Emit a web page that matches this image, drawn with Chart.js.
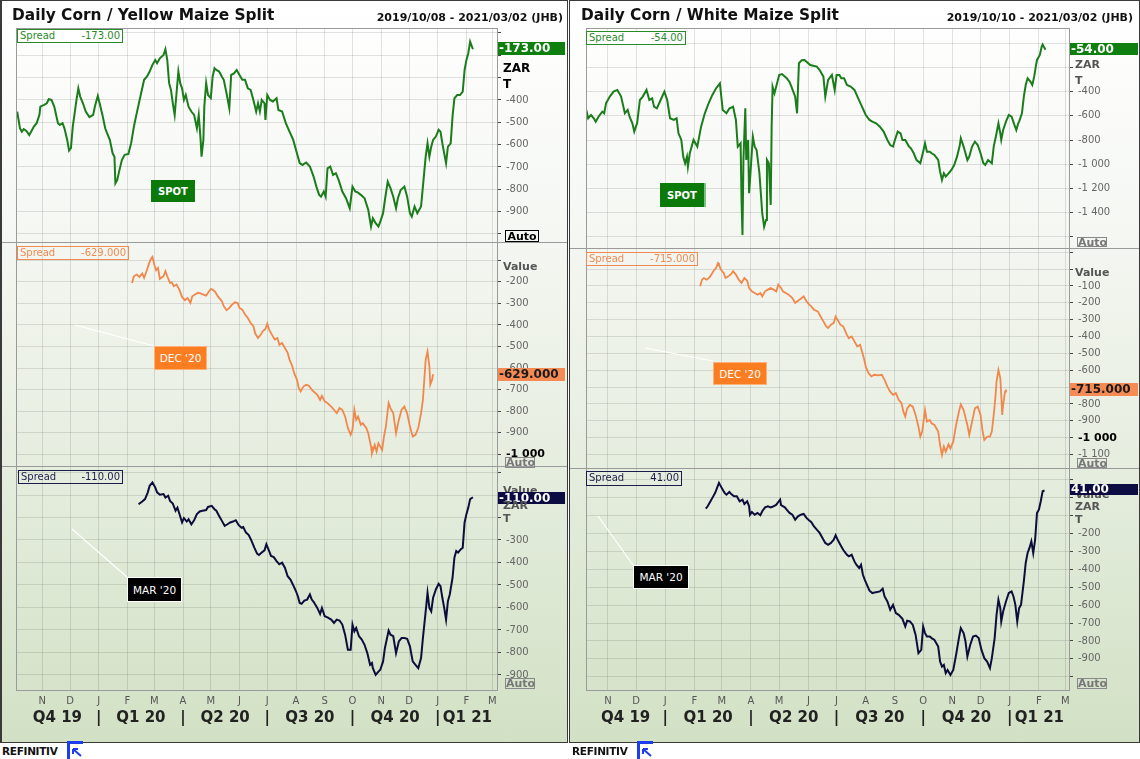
<!DOCTYPE html>
<html>
<head>
<meta charset="utf-8">
<script src="https://cdn.jsdelivr.net/npm/chart.js@4.4.1/dist/chart.umd.min.js"></script>
<style>
  body { margin:0; width:1140px; height:759px; overflow:hidden; background:#fff; font-family:'DejaVu Sans', Verdana, sans-serif; }
  .panel { position:absolute; top:0; height:742px; background:linear-gradient(to bottom,#ffffff 0%,#f6f8f4 28%,#e8efe2 58%,#d2e1c5 100%); }
  .panel canvas { position:absolute; left:0; }
  .frame { position:absolute; border:1px solid #3a3a3a; box-sizing:border-box; pointer-events:none; }
  .hl { position:absolute; height:1px; background:#9a9a9a; }
  .vl { position:absolute; width:1px; background:#9a9a9a; }
  .title { position:absolute; top:6px; font-weight:bold; font-size:15.4px; color:#111; white-space:nowrap; }
  .range { position:absolute; top:11px; font-weight:bold; font-size:11px; color:#111; white-space:nowrap; }
  .spread { position:absolute; border:1px solid; box-sizing:border-box; font-size:10px; line-height:12px; padding:0 2px; display:flex; justify-content:space-between; white-space:nowrap; }
  .tag { position:absolute; font-weight:bold; font-size:12px; padding-left:1px; box-sizing:border-box; white-space:nowrap; overflow:hidden; }
  .unit { position:absolute; font-weight:bold; font-size:11px; line-height:11px; }
  .auto { position:absolute; border:1px solid #888; box-sizing:border-box; font-weight:bold; font-size:11px; line-height:10px; color:#777; text-align:center; }
  .box { position:absolute; color:#fff; font-size:10.5px; display:flex; align-items:center; justify-content:center; box-sizing:border-box; white-space:nowrap; }
  .logo { position:absolute; top:745px; font-weight:bold; font-size:10.5px; letter-spacing:-0.3px; color:#111; }
  .mark { position:absolute; top:741px; width:16px; height:18px; border-left:3px solid #1d3cf0; border-top:3px solid #1d3cf0; box-sizing:border-box; }
  svg { position:absolute; pointer-events:none; }
</style>
</head>
<body>

<div class="panel" style="left:0;width:568px">
  <canvas id="l1" width="568" height="214" style="top:28px"></canvas>
  <canvas id="l2" width="568" height="224" style="top:242px"></canvas>
  <canvas id="l3" width="568" height="276" style="top:466px"></canvas>
  <div class="vl" style="left:16px;top:28px;height:662px"></div>
  <div class="hl" style="left:16px;top:28px;width:481px"></div>
  <div class="hl" style="left:0;top:242px;width:568px"></div>
  <div class="hl" style="left:0;top:466px;width:568px"></div>
  <svg width="568" height="742" style="left:0;top:0">
    <line x1="75" y1="325" x2="154" y2="346" stroke="#fff" stroke-width="1.2"/>
    <line x1="72" y1="529" x2="127" y2="577" stroke="#fff" stroke-width="1.2"/>
  </svg>
  <div class="title" style="left:12px">Daily Corn / Yellow Maize Split</div>
  <div class="range" style="right:5px">2019/10/08 - 2021/03/02 (JHB)</div>

  <div class="spread" style="left:17px;top:29px;width:106px;height:14px;color:#2a8a2a;border-color:#2a8a2a;background:#fff"><span>Spread</span><span>-173.00</span></div>
  <div class="spread" style="left:17px;top:246px;width:112px;height:14px;color:#f08a52;border-color:#f08a52"><span>Spread</span><span>-629.000</span></div>
  <div class="spread" style="left:18px;top:470px;width:105px;height:14px;color:#1c1c4c;border-color:#1c1c4c"><span>Spread</span><span>-110.00</span></div>

  <div class="box" style="left:151px;top:180px;width:44px;height:22px;background:#0b7a0b;font-weight:bold;font-size:10px">SPOT</div>
  <div class="box" style="left:154px;top:346px;width:53px;height:24px;background:#fb7d22;border:1px solid #fcb27a">DEC '20</div>
  <div class="box" style="left:127px;top:577px;width:55px;height:25px;background:#000;border:1px solid #fff">MAR '20</div>

  <div class="unit" style="left:503px;top:46px;color:#000">Value</div>
  <div class="tag" style="left:498px;top:42px;width:67px;height:13px;line-height:13px;background:#0f800f;color:#fff">-173.00</div>
  <div class="unit" style="left:503px;top:63px;color:#000;font-size:12px">ZAR</div>
  <div class="unit" style="left:503px;top:79px;color:#000;font-size:12px">T</div>
  <div class="auto" style="left:505px;top:230px;width:34px;height:12px;color:#000;border-color:#000;line-height:11px">Auto</div>

  <div class="unit" style="left:503px;top:261px;color:#555">Value</div>
  <div class="tag" style="left:498px;top:368px;width:67px;height:13px;line-height:13px;background:#f58a55;color:#1a1a1a">-629.000</div>
  <div class="auto" style="left:505px;top:457px;width:30px;height:11px">Auto</div>

  <div class="unit" style="left:503px;top:485px;color:#555">Value</div>
  <div class="tag" style="left:498px;top:492px;width:67px;height:12px;line-height:12px;background:#0c0c42;color:#fff">-110.00</div>
  <div class="unit" style="left:503px;top:500px;color:#555">ZAR</div>
  <div class="unit" style="left:503px;top:513px;color:#555">T</div>
  <div class="auto" style="left:505px;top:678px;width:30px;height:11px">Auto</div>
</div>

<div class="panel" style="left:570px;width:570px">
  <canvas id="r1" width="570" height="220" style="top:28px"></canvas>
  <canvas id="r2" width="570" height="220" style="top:248px"></canvas>
  <canvas id="r3" width="570" height="274" style="top:468px"></canvas>
  <div class="vl" style="left:16px;top:28px;height:662px"></div>
  <div class="hl" style="left:16px;top:28px;width:483px"></div>
  <div class="hl" style="left:0;top:248px;width:570px"></div>
  <div class="hl" style="left:0;top:468px;width:570px"></div>
  <svg width="570" height="742" style="left:0;top:0">
    <line x1="75" y1="348" x2="143" y2="361" stroke="#fff" stroke-width="1.2"/>
    <line x1="28" y1="516" x2="63" y2="565" stroke="#fff" stroke-width="1.2"/>
  </svg>
  <div class="title" style="left:11px">Daily Corn / White Maize Split</div>
  <div class="range" style="right:7px">2019/10/10 - 2021/03/02 (JHB)</div>

  <div class="spread" style="left:16px;top:31px;width:100px;height:14px;color:#2a8a2a;border-color:#2a8a2a;background:#fff"><span>Spread</span><span>-54.00</span></div>
  <div class="spread" style="left:16px;top:252px;width:112px;height:14px;color:#f08a52;border-color:#f08a52"><span>Spread</span><span>-715.000</span></div>
  <div class="spread" style="left:16px;top:471px;width:96px;height:15px;color:#1c1c4c;border-color:#1c1c4c"><span>Spread</span><span>41.00</span></div>

  <div class="box" style="left:90px;top:183px;width:46px;height:24px;background:#0b7a0b;font-weight:bold;font-size:10px;border-right:2px solid #7fbf7f">SPOT</div>
  <div class="box" style="left:143px;top:362px;width:54px;height:23px;background:#fb7d22;border:1px solid #fcb27a">DEC '20</div>
  <div class="box" style="left:63px;top:565px;width:56px;height:24px;background:#000;border:1px solid #fff">MAR '20</div>

  <div class="unit" style="left:505px;top:46px;color:#555">Value</div>
  <div class="tag" style="left:500px;top:43px;width:68px;height:12px;line-height:12px;background:#0f800f;color:#fff">-54.00</div>
  <div class="unit" style="left:505px;top:59px;color:#555">ZAR</div>
  <div class="unit" style="left:505px;top:75px;color:#555">T</div>
  <div class="auto" style="left:507px;top:237px;width:30px;height:10px;line-height:9px">Auto</div>

  <div class="unit" style="left:505px;top:267px;color:#555">Value</div>
  <div class="tag" style="left:500px;top:383px;width:68px;height:13px;line-height:13px;background:#f58a55;color:#1a1a1a">-715.000</div>
  <div class="auto" style="left:507px;top:458px;width:30px;height:10px;line-height:9px">Auto</div>

  <div class="unit" style="left:505px;top:489px;color:#555">Value</div>
  <div class="tag" style="left:500px;top:484px;width:68px;height:11px;line-height:11px;background:#0c0c42;color:#fff">41.00</div>
  <div class="unit" style="left:505px;top:501px;color:#555">ZAR</div>
  <div class="unit" style="left:505px;top:514px;color:#555">T</div>
  <div class="auto" style="left:507px;top:678px;width:30px;height:11px">Auto</div>
</div>

<div class="frame" style="left:0;top:0;width:568px;height:743px;border-left-width:2px"></div>
<div class="frame" style="left:569px;top:0;width:571px;height:743px"></div>

<div class="logo" style="left:2px">REFINITIV</div>
<div class="mark" style="left:67px"></div>
<svg width="14" height="12" style="left:70px;top:746px"><path d="M11 10 L3 3 M3 3 L3 8 M3 3 L8 3" stroke="#1d3cf0" stroke-width="2" fill="none"/></svg>
<div class="logo" style="left:572px">REFINITIV</div>
<div class="mark" style="left:637px"></div>
<svg width="14" height="12" style="left:640px;top:746px"><path d="M11 10 L3 3 M3 3 L3 8 M3 3 L8 3" stroke="#1d3cf0" stroke-width="2" fill="none"/></svg>

<script>
// days are counted from 2019-10-01
const ORIGIN = Date.UTC(2019, 9, 1);
const dayOf = s => (Date.parse(s) - ORIGIN) / 864e5;

const monthStarts = ['2019-11-01','2019-12-01','2020-01-01','2020-02-01','2020-03-01','2020-04-01','2020-05-01','2020-06-01','2020-07-01','2020-08-01','2020-09-01','2020-10-01','2020-11-01','2020-12-01','2021-01-01','2021-02-01','2021-03-01'];
const monthLabels = ['N','D','J','F','M','A','M','J','J','A','S','O','N','D','J','F','M'];
const quarterStarts = ['2019-10-01','2020-01-01','2020-04-01','2020-07-01','2020-10-01','2021-01-01','2021-04-01'];
const quarterLabels = ['Q4 19','Q1 20','Q2 20','Q3 20','Q4 20','Q1 21'];

// Yellow maize split
const yellowSpotDays = [4,7,9,11,14,17,19,22,25,28,29,33,36,38,41,44,48,50,53,55,58,60,62,64,66,68,70,72,75,78,82,86,88,91,93,96,99,101,104,107,109,110,112,114,117,120,124,127,130,133,137,141,144,147,150,153,155,158,162,164,166,168,170,172,174,176,178,180,182,184,186,189,192,195,198,200,202,203,205,206,208,210,213,215,217,219,222,225,227,230,233,235,238,241,244,247,250,253,256,259,262,264,266,268,271,272,274,277,280,284,286,290,294,298,302,306,309,312,316,320,324,327,330,332,335,337,339,342,345,348,351,355,359,363,366,369,372,375,379,383,386,388,391,394,396,399,401,404,407,410,413,415,418,422,425,428,430,433,436,440,442,445,447,449,451,453,456,459,461,463,465,467,469,472,474,476,479,482,485,487,489,491,493,496];
const yellowSpotVals = [-452,-527,-542,-531,-539,-557,-542,-519,-504,-467,-430,-422,-415,-397,-400,-430,-504,-512,-504,-527,-579,-627,-616,-519,-460,-400,-348,-385,-415,-452,-477,-467,-427,-382,-415,-467,-527,-549,-579,-639,-654,-773,-758,-721,-669,-646,-642,-594,-519,-460,-385,-310,-296,-273,-243,-221,-236,-214,-199,-173,-221,-325,-355,-415,-467,-370,-273,-325,-348,-400,-378,-430,-452,-467,-527,-467,-579,-654,-579,-430,-325,-378,-392,-296,-258,-266,-273,-296,-310,-370,-437,-288,-281,-266,-288,-310,-310,-348,-355,-400,-452,-415,-452,-400,-415,-490,-378,-400,-407,-392,-445,-452,-504,-542,-579,-639,-683,-691,-680,-698,-743,-788,-825,-833,-810,-833,-706,-698,-736,-728,-758,-810,-840,-885,-788,-810,-815,-825,-840,-892,-967,-930,-952,-967,-945,-907,-848,-766,-795,-833,-885,-840,-803,-788,-833,-907,-922,-877,-907,-877,-788,-654,-594,-654,-609,-579,-564,-534,-542,-594,-639,-683,-609,-594,-474,-393,-378,-378,-363,-266,-221,-191,-139,-173];

const yellowDecDays = [128,130,133,136,139,141,144,146,148,150,152,154,156,158,162,164,166,169,171,173,176,179,182,185,188,191,193,196,199,202,205,208,210,213,215,218,221,225,227,230,233,236,239,242,244,247,250,253,256,259,261,264,267,269,272,274,276,280,282,285,287,290,293,296,298,301,303,306,308,310,313,316,319,322,324,328,331,333,336,339,343,346,349,352,355,358,361,364,366,368,370,372,375,377,381,383,386,387,390,392,394,398,400,402,405,407,410,413,416,419,422,425,428,431,434,437,440,442,444,445,447,449,450,452,453];
const yellowDecVals = [-205,-174,-166,-177,-161,-181,-146,-119,-96,-84,-119,-146,-135,-186,-174,-150,-174,-205,-202,-220,-212,-236,-270,-285,-275,-298,-267,-259,-251,-254,-259,-264,-251,-233,-236,-248,-270,-290,-313,-332,-321,-306,-295,-298,-321,-329,-352,-368,-391,-406,-440,-461,-445,-430,-419,-394,-422,-453,-468,-461,-492,-484,-507,-530,-561,-592,-624,-654,-693,-709,-686,-678,-682,-701,-709,-724,-748,-729,-755,-763,-779,-794,-810,-786,-794,-825,-879,-910,-887,-794,-841,-825,-864,-856,-879,-903,-965,-996,-957,-988,-949,-980,-918,-872,-763,-786,-810,-903,-841,-794,-779,-810,-872,-918,-910,-879,-810,-748,-624,-561,-523,-592,-678,-654,-629];

const yellowMarDays = [135,139,142,145,147,150,153,155,158,162,164,167,169,172,175,177,179,182,184,187,189,192,195,198,201,204,208,210,214,217,219,222,225,228,231,234,237,240,243,246,248,251,254,257,260,263,265,268,271,273,276,278,281,284,287,290,293,296,299,302,305,307,309,311,314,317,320,322,324,328,331,333,336,339,343,346,349,352,355,358,361,364,366,368,370,373,376,379,382,385,387,388,391,394,396,399,401,405,407,410,413,416,419,422,425,428,431,434,437,440,442,445,447,449,451,453,456,459,461,463,465,467,469,471,474,476,478,480,483,485,487,489,491,493,496];
const yellowMarVals = [-141,-129,-118,-88,-59,-44,-66,-88,-99,-96,-111,-103,-126,-138,-170,-156,-182,-222,-203,-218,-208,-230,-212,-185,-173,-170,-167,-153,-148,-163,-170,-193,-215,-237,-230,-222,-218,-212,-233,-245,-242,-267,-278,-304,-334,-361,-367,-356,-346,-319,-349,-371,-376,-394,-408,-401,-423,-461,-476,-501,-528,-550,-580,-584,-569,-565,-542,-565,-575,-602,-629,-602,-639,-644,-654,-669,-654,-658,-676,-721,-788,-788,-676,-706,-691,-728,-743,-766,-803,-855,-847,-870,-900,-885,-877,-840,-780,-703,-721,-728,-803,-751,-736,-736,-739,-773,-840,-855,-870,-825,-736,-617,-535,-602,-617,-557,-520,-495,-505,-557,-602,-654,-572,-542,-468,-379,-349,-356,-341,-334,-222,-185,-156,-118,-110];

// White maize split
const whiteSpotDays = [8,10,13,16,18,21,25,27,29,33,37,41,45,49,52,54,57,59,62,65,68,72,75,78,80,83,87,91,94,97,101,104,106,109,111,113,115,116,118,122,126,130,134,138,142,146,150,153,157,160,164,167,169,172,173,174,175,177,178,180,181,182,185,187,189,192,195,197,199,200,202,204,205,206,208,213,216,221,224,226,230,232,234,237,240,246,253,256,260,262,265,269,272,274,277,279,282,285,289,293,297,301,305,309,312,316,320,324,328,331,334,336,339,342,344,347,351,353,356,359,363,366,368,370,373,375,378,382,384,386,388,390,393,396,399,402,405,406,409,413,415,418,421,424,427,430,432,435,439,441,444,446,448,449,451,454,457,460,463,465,467,468,471,473,475,477,480,482,484,486,487,490,492,493,495,496];
const whiteSpotVals = [-551,-620,-593,-620,-648,-607,-565,-579,-496,-441,-400,-386,-441,-579,-551,-607,-662,-730,-662,-469,-441,-386,-469,-455,-524,-538,-469,-400,-469,-620,-634,-620,-744,-799,-937,-992,-937,-1020,-909,-799,-854,-689,-579,-496,-427,-372,-331,-551,-579,-540,-524,-634,-855,-827,-1295,-1584,-964,-537,-964,-799,-1240,-1130,-772,-855,-882,-1074,-1405,-1516,-1460,-964,-992,-1336,-689,-359,-413,-262,-255,-289,-320,-359,-441,-579,-165,-140,-138,-180,-193,-221,-276,-441,-303,-262,-386,-262,-262,-290,-290,-345,-358,-386,-455,-524,-593,-634,-648,-662,-689,-730,-799,-841,-854,-799,-730,-744,-799,-799,-854,-868,-909,-965,-992,-896,-827,-896,-896,-909,-923,-965,-1061,-1130,-1075,-1102,-1075,-1047,-1006,-937,-841,-785,-854,-965,-937,-854,-813,-841,-909,-992,-1006,-965,-992,-854,-744,-662,-744,-799,-717,-648,-593,-607,-675,-717,-662,-648,-579,-441,-345,-290,-317,-345,-276,-179,-138,-97,-28,-10,-40,-54];

const whiteDecDays = [129,131,133,136,139,141,143,146,148,149,151,154,156,159,162,164,167,170,173,176,179,181,184,187,190,193,195,198,201,204,207,210,212,215,217,220,223,227,230,233,236,239,242,245,247,250,254,257,260,263,265,268,271,273,276,278,281,285,287,290,293,296,299,301,303,305,308,311,314,318,322,325,328,331,334,337,340,343,345,347,349,352,355,358,361,363,365,368,370,373,375,378,382,384,386,388,390,393,395,398,401,404,406,409,413,415,418,421,424,427,429,431,434,437,439,441,443,444,446,448,449,450,451,453,454];
const whiteDecVals = [-102,-63,-53,-63,-49,-33,-13,7,36,27,-3,-23,-53,-43,-29,-13,-33,-63,-82,-53,-69,-112,-132,-142,-152,-142,-162,-132,-122,-112,-122,-132,-92,-112,-132,-142,-152,-172,-201,-188,-176,-162,-191,-211,-221,-241,-251,-281,-310,-340,-350,-330,-320,-281,-310,-330,-340,-390,-410,-400,-429,-459,-449,-489,-528,-578,-618,-637,-627,-631,-627,-657,-697,-727,-746,-736,-776,-796,-846,-875,-826,-806,-816,-865,-935,-994,-964,-836,-905,-895,-915,-925,-964,-1044,-1103,-1053,-1083,-1040,-1064,-1024,-925,-846,-802,-836,-925,-984,-905,-826,-816,-865,-955,-1014,-994,-994,-964,-865,-746,-667,-598,-647,-746,-865,-806,-727,-715];

const whiteMarDays = [135,137,140,142,145,147,149,150,153,155,157,160,162,165,168,171,174,176,179,181,182,184,187,190,193,195,198,201,204,207,210,212,214,215,219,221,224,227,230,233,236,239,242,245,247,250,253,256,259,262,265,268,271,273,276,278,281,285,287,290,293,295,298,300,302,304,307,309,312,316,320,323,325,328,331,334,337,340,344,347,349,352,355,358,361,364,366,368,370,373,375,378,382,384,386,388,390,392,395,398,401,404,406,409,411,413,416,419,422,425,428,431,434,437,439,442,444,446,448,449,451,454,457,460,462,464,466,468,470,473,475,477,479,481,483,485,487,489,491,493,495];
const whiteMarVals = [-60,-47,-19,0,28,56,84,74,46,28,18,33,22,9,9,-19,-10,-34,-19,-47,-94,-79,-94,-84,-97,-75,-53,-47,-53,-47,-38,-23,-10,-41,-53,-66,-84,-94,-122,-103,-94,-90,-112,-127,-135,-159,-178,-196,-224,-252,-262,-252,-234,-209,-243,-262,-290,-318,-327,-318,-355,-374,-392,-374,-430,-458,-495,-519,-532,-527,-523,-508,-551,-579,-626,-598,-644,-654,-676,-719,-687,-691,-710,-766,-868,-850,-719,-756,-775,-775,-784,-794,-831,-915,-943,-934,-980,-962,-990,-962,-878,-784,-728,-756,-803,-887,-822,-775,-770,-784,-850,-896,-915,-952,-896,-784,-654,-570,-616,-691,-635,-579,-532,-523,-551,-598,-691,-616,-598,-467,-364,-308,-280,-243,-308,-234,-84,-66,-19,37,41];

const FONT = "'DejaVu Sans', Verdana, sans-serif";
const GRID = 'rgba(0,0,0,0.11)';
Chart.defaults.font.family = FONT;

const monthDays = monthStarts.map(dayOf);
const quarterDays = quarterStarts.map(dayOf);

const fmt = v => v <= -1000 ? '-' + String(-v).replace(/(\d)(\d{3})$/, '$1 $2') : String(v);

function quarterTicks(xMin, xMax) {
  const t = [];
  quarterLabels.forEach((q, i) => {
    const a = Math.max(quarterDays[i], xMin), b = Math.min(quarterDays[i + 1], xMax);
    t.push({value: (a + b) / 2, label: q});
    if (i < quarterLabels.length - 1) t.push({value: quarterDays[i + 1], label: '|'});
  });
  return t;
}

function valueTicks(min, max, step) {
  const t = [];
  for (let v = Math.ceil(min / step) * step; v <= max; v += step) t.push({value: v});
  return t;
}

function subChart(c) {
  const qt = quarterTicks(c.xMin, c.xMax);
  const yt = valueTicks(c.yMin, c.yMax, c.step);
  const scales = {
    x: {
      type:'linear', min:c.xMin, max:c.xMax,
      grid:{color:GRID, drawTicks:false},
      border:{display:!!c.bottom, color:'#9a9a9a'},
      afterBuildTicks: s => { s.ticks = monthDays.map(v => ({value:v})); },
      ticks:{display:!!c.bottom, autoSkip:false, maxRotation:0, minRotation:0, padding:5, color:'#555', font:{size:10}, callback:(v, i) => monthLabels[i]},
      afterFit: s => { s.height = c.bottom ? 16 : 0; s.paddingLeft = 0; s.paddingRight = 0; }
    },
    y: {
      position:'right', min:c.yMin, max:c.yMax,
      grid:{color:GRID, tickLength:4, tickColor:'#444'},
      border:{color:'#9a9a9a'},
      afterBuildTicks: s => { s.ticks = yt.map(t => ({value:t.value})); },
      ticks:{
        autoSkip:false, padding:5,
        color: ctx => ctx.tick && ctx.tick.value === c.bold ? '#000' : '#666',
        font: ctx => ({size: ctx.tick && ctx.tick.value === c.bold ? 11 : 10, weight: ctx.tick && ctx.tick.value === c.bold ? 'bold' : 'normal'}),
        callback: (v, i) => c.show(yt[i].value) ? fmt(yt[i].value) : ''
      },
      afterFit: s => { s.width = 71; s.paddingTop = 0; s.paddingBottom = 0; }
    }
  };
  if (c.bottom) {
    scales.xq = {
      type:'linear', position:'bottom', min:c.xMin, max:c.xMax,
      grid:{display:false, drawTicks:false}, border:{display:false},
      afterBuildTicks: s => { s.ticks = qt.map(t => ({value:t.value})); },
      ticks:{autoSkip:false, maxRotation:0, minRotation:0, padding:3, color:'#222', font:{size:15, weight:'bold'}, callback:(v, i) => qt[i].label},
      afterFit: s => { s.height = 30; s.paddingLeft = 0; s.paddingRight = 0; }
    };
  }
  new Chart(document.getElementById(c.id), {
    type:'line',
    data:{datasets:[{data:c.days.map((d, i) => ({x:d, y:c.vals[i]})), borderColor:c.color, borderWidth:c.lw, pointRadius:0, tension:0}]},
    options:{
      responsive:false, animation:false, events:[],
      layout:{autoPadding:false, padding:{left:16, right:0, top:0, bottom:c.bottom ? 6 : 0}},
      plugins:{legend:{display:false}, tooltip:{enabled:false}},
      scales
    }
  });
}

const L = {xMin:2.7, xMax:522};
const R = {xMin:7.7, xMax:521};

subChart({...L, id:'l1', days:yellowSpotDays, vals:yellowSpotVals, color:'#1a7c1a', lw:2, yMin:-1036, yMax:-78, step:100, show:v => v <= -400 && v >= -900});
subChart({...L, id:'l2', days:yellowDecDays, vals:yellowDecVals, color:'#f2874c', lw:1.8, yMin:-1055, yMax:-15, step:100, bold:-1000, show:v => v <= -200 && v >= -1000});
subChart({...L, id:'l3', days:yellowMarDays, vals:yellowMarVals, color:'#0d0d3b', lw:2, yMin:-967, yMax:29, step:100, bottom:true, show:v => v <= -300 && v >= -900});

subChart({...R, id:'r1', days:whiteSpotDays, vals:whiteSpotVals, color:'#1a7c1a', lw:2, yMin:-1692, yMax:126, step:200, show:v => v <= -400 && v >= -1400});
subChart({...R, id:'r2', days:whiteDecDays, vals:whiteDecVals, color:'#f2874c', lw:1.8, yMin:-1180, yMax:125, step:100, bold:-1000, show:v => v <= -100 && v >= -1100 && v !== -700});
subChart({...R, id:'r3', days:whiteMarDays, vals:whiteMarVals, color:'#0d0d3b', lw:2, yMin:-1074, yMax:167, step:100, bottom:true, show:v => v <= -200 && v >= -900});
</script>
</body>
</html>
